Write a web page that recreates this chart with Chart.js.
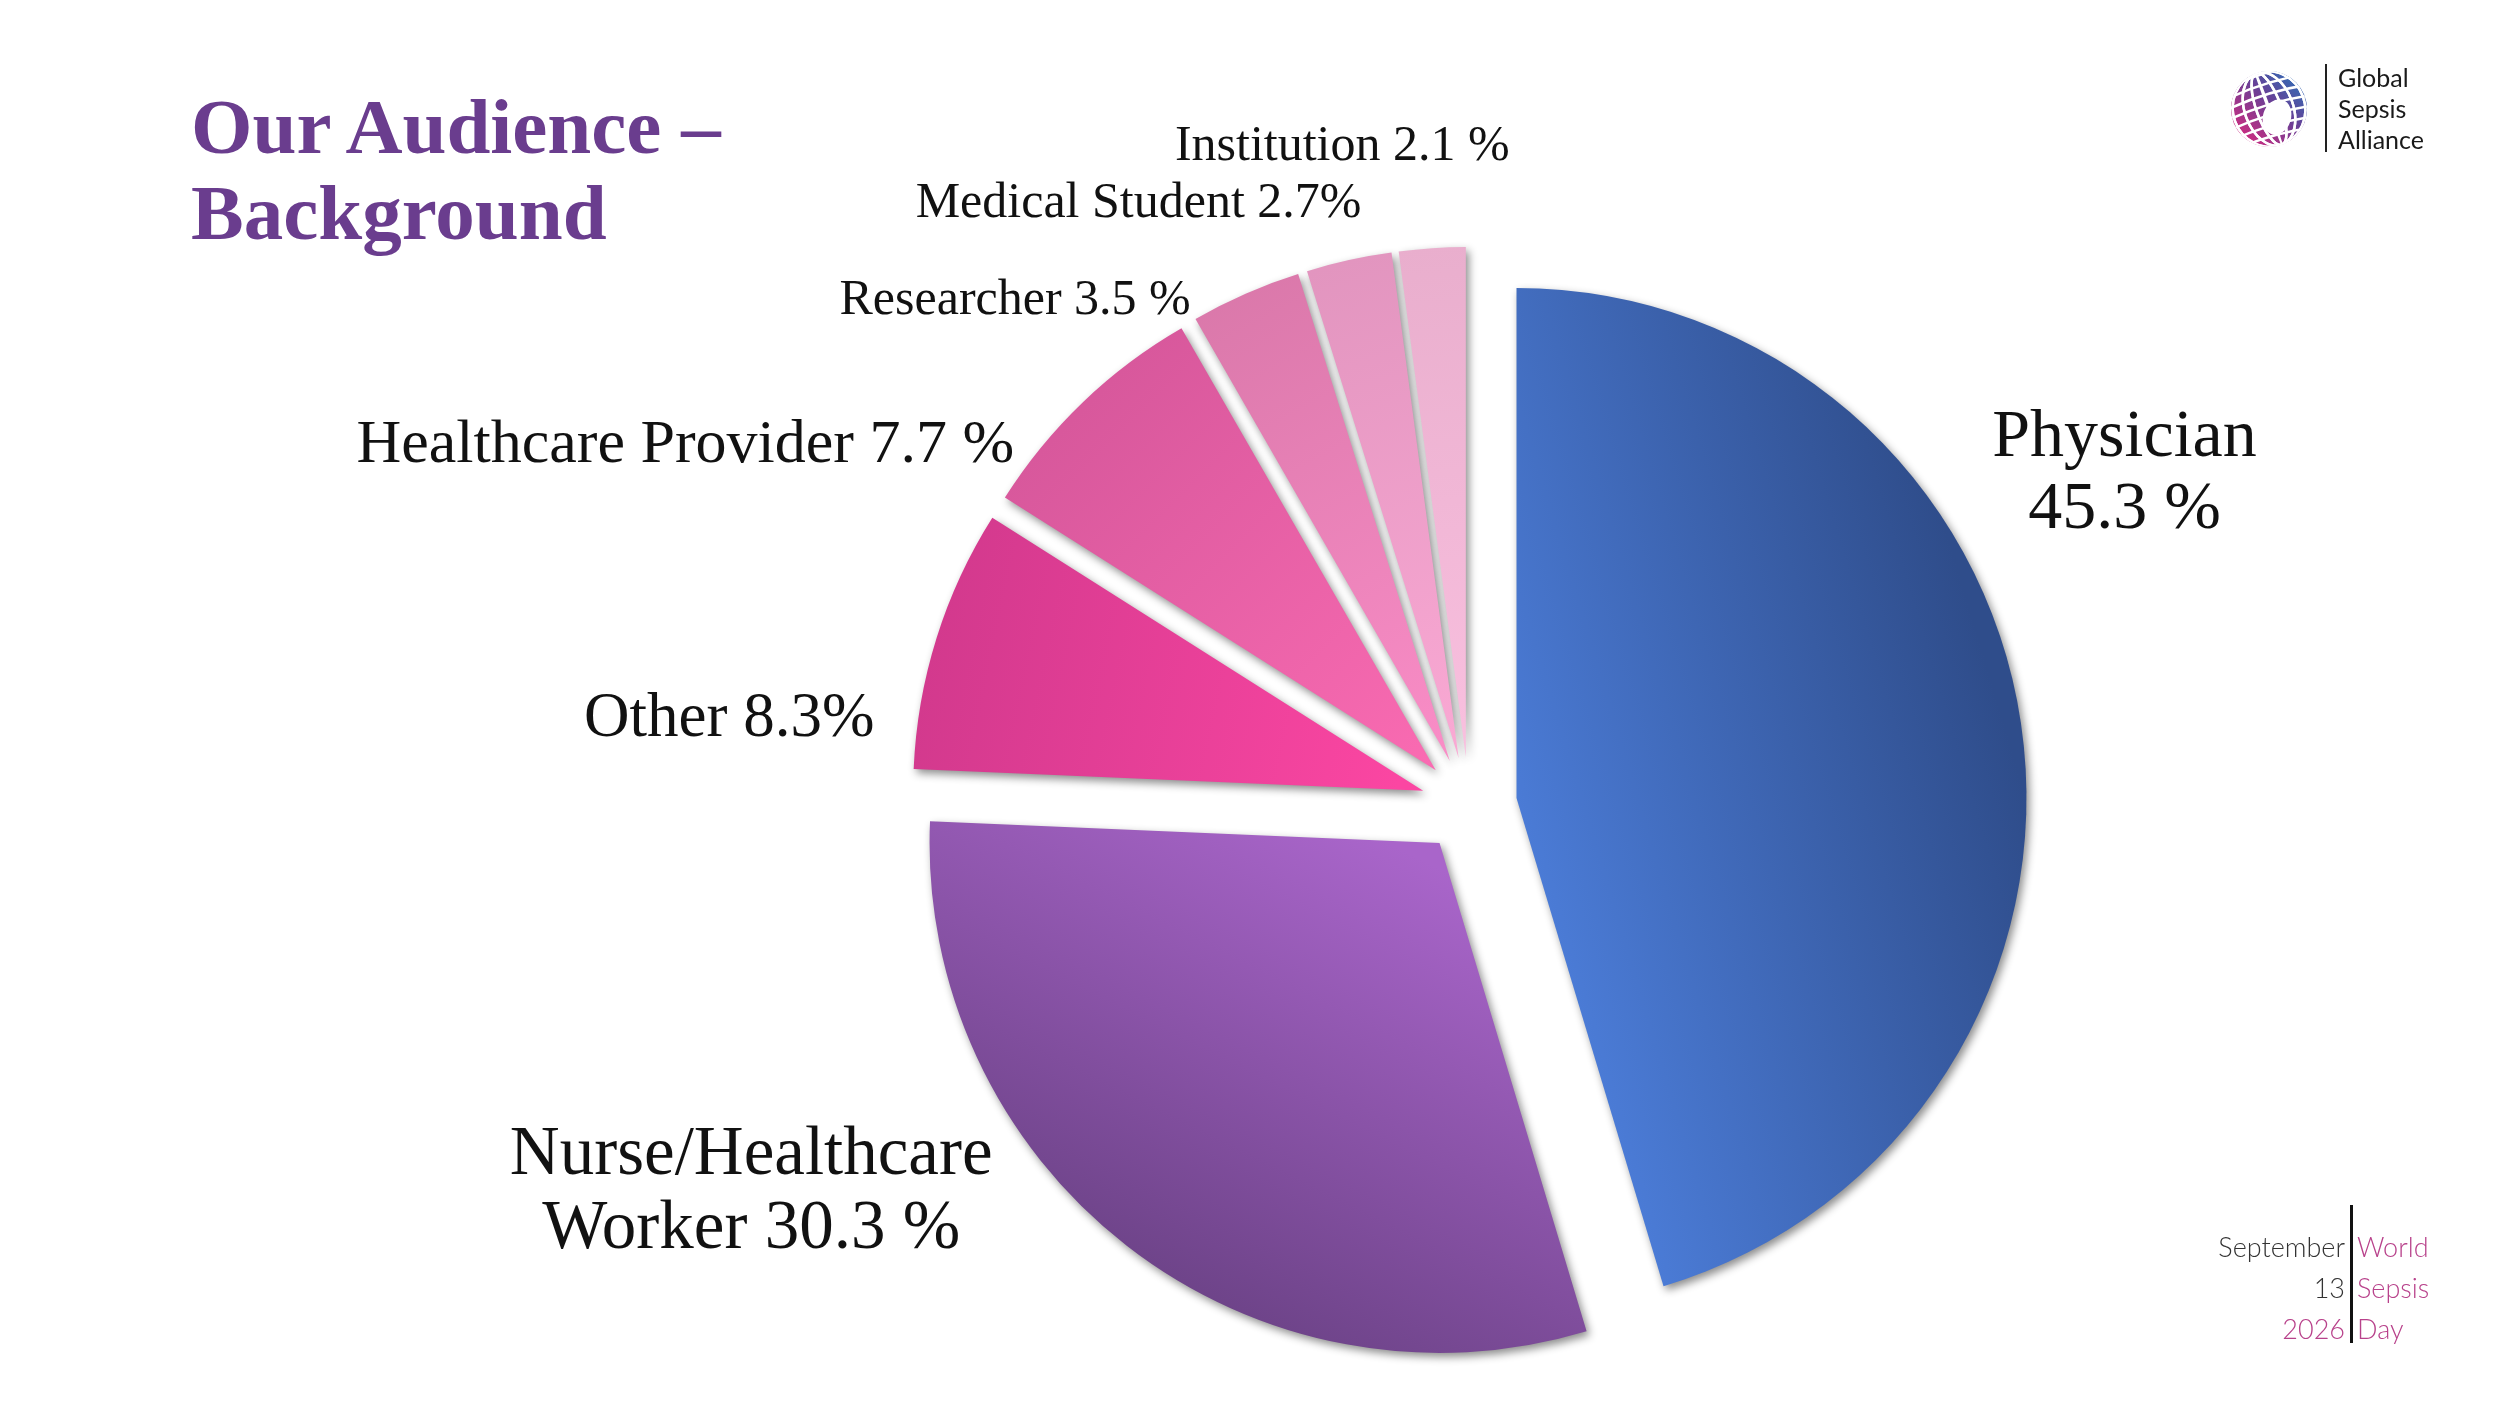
<!DOCTYPE html>
<html>
<head>
<meta charset="utf-8">
<script src="https://cdn.jsdelivr.net/npm/chart.js@4.4.1/dist/chart.umd.min.js"></script>
<style>
  html, body { margin: 0; padding: 0; background: #fff; }
  body { width: 2500px; height: 1406px; position: relative; overflow: hidden; }
  #chart { position: absolute; left: 0; top: 0; }
  .title { position: absolute; left: 191px; top: 84px; font-family: "Liberation Serif", serif; font-weight: bold;
           font-size: 79px; line-height: 86px; color: #6a3d8e; white-space: nowrap; }
  #globe { position: absolute; left: 2226px; top: 66px; }
  .logo-bar { position: absolute; left: 2325px; top: 64px; width: 2px; height: 88px; background: #222; }
  .logo-text { position: absolute; left: 2338px; top: 62px; font-family: Lato, "Open Sans", sans-serif;
               font-size: 25px; line-height: 31px; color: #1a1a1a; }
  .wsd { position: absolute; top: 1226px; font-family: Lato, "Open Sans", sans-serif; font-weight: 300;
         font-size: 27px; line-height: 41px; }
  .wsd.left { right: 155px; text-align: right; color: #333; }
  .wsd.right { left: 2357px; color: #b8428b; }
  .wsd-bar { position: absolute; left: 2350px; top: 1205px; width: 3px; height: 138px; background: #111; }
</style>
</head>
<body>
<canvas id="chart" width="2500" height="1406"></canvas>
<div class="title">Our Audience –<br>Background</div>
<canvas id="globe" width="86" height="86"></canvas>
<div class="logo-bar"></div>
<div class="logo-text">Global<br>Sepsis<br>Alliance</div>
<div class="wsd left">September<br>13<br><span style="color:#b8428b">2026</span></div>
<div class="wsd-bar"></div>
<div class="wsd right">World<br>Sepsis<br>Day</div>
<script>
// Audience background shares (%)
const categories = ['Physician', 'Nurse/Healthcare Worker', 'Other', 'Healthcare Provider',
                    'Researcher', 'Medical Student', 'Institution'];
const shares = [45.3, 30.3, 8.3, 7.7, 3.5, 2.7, 2.1];
const percentGap = [' ', ' ', '', ' ', ' ', '', ' '];      // how the slide writes "x %"
const breakAfter = ['Physician', 'Nurse/Healthcare', null, null, null, null, null];

// layout / style
const PIE_RADIUS = 510;
const EXPLODE = 48;
const labelAngle = [63.2, 241.6, 276.6, 294.6, 318, 331.2, 349.1];   // deg clockwise from 12 o'clock
const labelDist = [1.44, 1.60, 1.46, 1.69, 1.33, 1.345, 1.314];       // x radius
const labelSize = [68, 69, 63, 62, 50, 50, 50];
const labelLineGap = [72, 74, 0, 0, 0, 0, 0];
const sliceStyles = [
    { from: [0.0, 0.3], to: [1.0, 0.0], colors: ['#4d7fdc', '#2f4d8b'] },
    { from: [0.0, 0.05], to: [-0.45, 0.95], colors: ['#a965ca', '#6b4286'] },
    { from: [-0.05, 0.0], to: [-1.0, -0.2], colors: ['#fb46a2', '#d2398d'] },
    { from: [0.0, 0.0], to: [-0.7, -0.7], colors: ['#fa6bb2', '#d8589c'] },
    { from: [0.0, 0.0], to: [-0.5, -0.9], colors: ['#fa8dc7', '#da78aa'] },
    { from: [0.0, 0.0], to: [-0.3, -1.0], colors: ['#faa9d4', '#e194be'] },
    { from: [0.0, 0.0], to: [-0.1, -1.0], colors: ['#f9c0df', '#e9aecd'] }
];

const total = shares.reduce((a, b) => a + b, 0);
const midAngle = i => {
    let before = 0;
    for (let k = 0; k < i; k++) before += shares[k];
    return -Math.PI / 2 + (before + shares[i] / 2) / total * Math.PI * 2;
};

function sliceFill(ctx) {
    const i = ctx.dataIndex;
    const area = ctx.chart.chartArea;
    if (i === undefined) return '#888';
    const s = sliceStyles[i];
    if (!area) return s.colors[0];
    const a = midAngle(i);
    const cx = (area.left + area.right) / 2 + Math.cos(a) * EXPLODE;
    const cy = (area.top + area.bottom) / 2 + Math.sin(a) * EXPLODE;
    const g = ctx.chart.ctx.createLinearGradient(
        cx + s.from[0] * PIE_RADIUS, cy + s.from[1] * PIE_RADIUS,
        cx + s.to[0] * PIE_RADIUS, cy + s.to[1] * PIE_RADIUS);
    g.addColorStop(0, s.colors[0]);
    g.addColorStop(1, s.colors[1]);
    return g;
}

// pull every slice out along its bisector, with a soft shadow
const explodePlugin = {
    id: 'explode',
    beforeDatasetDraw(chart, args) {
        args.meta.data.forEach(arc => {
            const a = (arc.startAngle + arc.endAngle) / 2;
            arc._home = [arc.x, arc.y];
            arc.x += Math.cos(a) * EXPLODE;
            arc.y += Math.sin(a) * EXPLODE;
        });
        const c = chart.ctx;
        c.save();
        c.shadowColor = 'rgba(0,0,0,0.45)';
        c.shadowBlur = 9;
        c.shadowOffsetX = 3;
        c.shadowOffsetY = 4;
    },
    afterDatasetDraw(chart, args) {
        chart.ctx.restore();
        args.meta.data.forEach(arc => {
            [arc.x, arc.y] = arc._home;
        });
    }
};

const labelPlugin = {
    id: 'sliceLabels',
    afterDraw(chart) {
        const arcs = chart.getDatasetMeta(0).data;
        const c = chart.ctx;
        c.save();
        c.fillStyle = '#111';
        c.textAlign = 'center';
        c.textBaseline = 'middle';
        arcs.forEach((arc, i) => {
            const text = categories[i] + ' ' + shares[i].toFixed(1) + percentGap[i] + '%';
            let lines = [text];
            if (breakAfter[i]) {
                lines = [breakAfter[i], text.slice(breakAfter[i].length).trim()];
            }
            const ang = labelAngle[i] * Math.PI / 180;
            const r = labelDist[i] * arc.outerRadius;
            const x = arc.x + Math.sin(ang) * r;
            const y = arc.y - Math.cos(ang) * r;
            c.font = labelSize[i] + 'px "Liberation Serif", serif';
            const gap = labelLineGap[i];
            lines.forEach((ln, k) => {
                c.fillText(ln, x, y + (k - (lines.length - 1) / 2) * gap);
            });
        });
        c.restore();
    }
};

new Chart(document.getElementById('chart'), {
    type: 'pie',
    data: {
        labels: categories,
        datasets: [{
            data: shares,
            backgroundColor: sliceFill,
            borderWidth: 0,
            radius: PIE_RADIUS
        }]
    },
    options: {
        responsive: false,
        animation: false,
        layout: { padding: { left: 438, top: 204, right: 0, bottom: 0 } },
        plugins: { legend: { display: false }, tooltip: { enabled: false } }
    },
    plugins: [explodePlugin, labelPlugin]
});

// small globe mark for the logo
(function () {
    const g = document.getElementById('globe').getContext('2d');
    const cx = 43, cy = 43, r = 38;
    g.save();
    g.beginPath();
    g.arc(cx, cy, r, 0, Math.PI * 2);
    g.clip();
    const grad = g.createLinearGradient(80, 5, 10, 80);
    grad.addColorStop(0, '#1f7bbf');
    grad.addColorStop(0.45, '#6a3f96');
    grad.addColorStop(1, '#e3287c');
    g.fillStyle = grad;
    g.fillRect(0, 0, 86, 86);
    g.strokeStyle = '#fff';
    g.lineWidth = 2.5;
    for (let k = -3; k <= 3; k++) {
        g.beginPath();
        g.ellipse(cx, cy, Math.abs(k) * r / 3.2 + 0.5, r, -0.35, 0, Math.PI * 2);
        g.stroke();
    }
    for (let k = -3; k <= 3; k++) {
        g.beginPath();
        const yy = cy + k * r / 3.5;
        g.moveTo(0, yy + 12);
        g.quadraticCurveTo(cx, yy - 8, 86, yy - 14);
        g.stroke();
    }
    g.restore();
    g.fillStyle = '#fff';
    g.beginPath();
    g.ellipse(cx + 8, cy + 8, 14, 18, 0.3, 0, Math.PI * 2);
    g.fill();
})();
</script>
</body>
</html>
